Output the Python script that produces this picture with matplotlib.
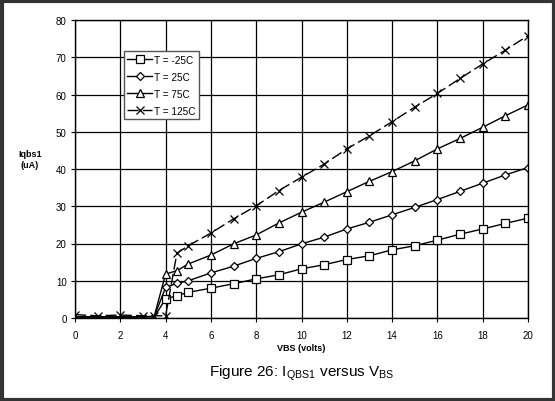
import matplotlib
matplotlib.use("Agg")
import matplotlib.pyplot as plt
from matplotlib.patches import Rectangle

plt.rcParams['font.family'] = ['Liberation Sans', 'DejaVu Sans']
plt.rcParams['mathtext.fontset'] = 'custom'
plt.rcParams['mathtext.rm'] = 'Liberation Sans'
plt.rcParams['mathtext.it'] = 'Liberation Sans'

vbs = [0, 1, 2, 3, 3.5, 4, 4.5, 5, 6, 7, 8, 9, 10, 11, 12, 13, 14, 15, 16, 17, 18, 19, 20]

i_m25 = [0.3, 0.3, 0.3, 0.3, 0.3, 5.1, 6.0, 6.9, 8.0, 9.2, 10.5, 11.6, 13.2, 14.3, 15.7, 16.7, 18.3, 19.4, 20.9, 22.5, 23.9, 25.4, 26.8]
i_25 = [0.3, 0.3, 0.3, 0.3, 0.4, 8.2, 9.3, 10.0, 12.1, 13.9, 16.0, 17.8, 19.9, 21.7, 23.9, 25.7, 27.7, 29.7, 31.8, 34.0, 36.2, 38.4, 40.4]
i_75 = [0.3, 0.3, 0.3, 0.3, 0.5, 11.8, 12.7, 14.5, 16.9, 19.9, 22.3, 25.5, 28.4, 31.1, 33.9, 36.7, 39.3, 42.2, 45.4, 48.2, 51.2, 54.3, 57.2]
i_125 = [0.9, 0.6, 0.8, 0.6, 0.6, 0.6, 17.4, 19.4, 22.8, 26.6, 30.1, 34.2, 37.8, 41.3, 45.4, 48.9, 52.7, 56.6, 60.3, 64.3, 68.2, 71.9, 75.8]

labels = ["T = -25C", "T = 25C", "T = 75C", "T = 125C"]
x_ticks = [0, 2, 4, 6, 8, 10, 12, 14, 16, 18, 20]
y_ticks = [0, 10, 20, 30, 40, 50, 60, 70, 80]

fig = plt.figure(figsize=(5.55, 4.02), dpi=100)
fig.patch.set_facecolor('white')
ax = fig.add_axes([75/555, 1 - 319/402, 453/555, 298/402])

ax.set_xlim(0, 20)
ax.set_ylim(0, 80)
ax.set_xticks(x_ticks)
ax.set_yticks(y_ticks)
ax.grid(True, color='black', linewidth=0.9)
ax.set_axisbelow(True)
for s in ax.spines.values():
    s.set_linewidth(1.0)
ax.tick_params(axis='both', labelsize=7, length=3, width=0.8, direction='out')
ax.tick_params(axis='x', pad=6)
ax.tick_params(axis='y', pad=3)

low_skip = list(range(5, len(vbs)))
kw = dict(color='black', linewidth=1.0, markerfacecolor='white', markeredgecolor='black', markeredgewidth=0.9)
ax.plot(vbs, i_m25, marker='s', markersize=5.5, markevery=low_skip, label=labels[0], **kw)
ax.plot(vbs, i_25, marker='D', markersize=4.2, markevery=low_skip, label=labels[1], **kw)
ax.plot(vbs, i_75, marker='^', markersize=5.8, markevery=low_skip, label=labels[2], **kw)
ax.plot(vbs, i_125, marker='x', markersize=6, dashes=(8, 3), label=labels[3], **kw)

leg = ax.legend(loc='upper left', bbox_to_anchor=(0.108, 0.895), fontsize=7.2, frameon=True,
                fancybox=False, edgecolor='#555555', framealpha=1, handlelength=2.5,
                handletextpad=0.2, borderpad=0.35, labelspacing=0.7, borderaxespad=0)
leg.get_frame().set_linewidth(1.0)

fig.text(30/555, 1 - 160/402, "Iqbs1\n(uA)", fontsize=6.5, fontweight='bold', ha='center', va='center', linespacing=1.3)
fig.text(301/555, 1 - 349/402, "VBS (volts)", fontsize=6.5, fontweight='bold', ha='center', va='center')
fig.text(302/555, 1 - 373/402, r"Figure 26: I$_{\mathrm{QBS1}}$ versus V$_{\mathrm{BS}}$", fontsize=11, ha='center', va='center')

fig.patches.append(Rectangle((1.5/555, 1.5/402), 552/555, 399/402, transform=fig.transFigure,
                             fill=False, edgecolor='#333333', linewidth=3))

fig.savefig("out.png", dpi=100)
